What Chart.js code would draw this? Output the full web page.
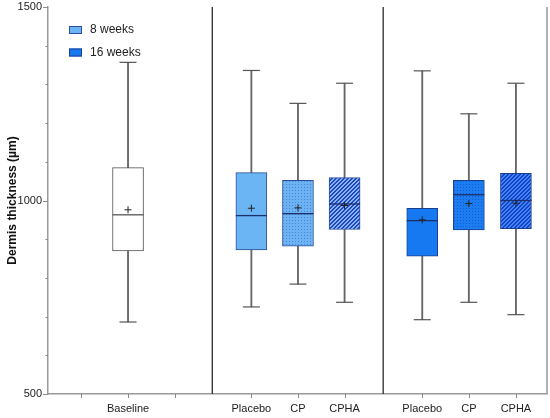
<!DOCTYPE html>
<html lang="en">
<head>
<meta charset="UTF-8">
<title>Dermis thickness</title>
<script src="https://cdn.jsdelivr.net/npm/chart.js"></script>
<style>
  html, body { margin: 0; padding: 0; background: #fff; }
  #wrap { width: 550px; height: 418px; }
</style>
</head>
<body>
<div id="wrap"><canvas id="myChart" width="550" height="418"></canvas></div>
<script>
// data (µm)
const categories = ['Baseline', 'Placebo', 'CP', 'CPHA', 'Placebo', 'CP', 'CPHA'];
const series     = ['Baseline', '8 weeks', '8 weeks', '8 weeks', '16 weeks', '16 weeks', '16 weeks'];
const whiskerMin = [686, 725, 784, 737, 692, 737, 705];
const q1         = [870, 872, 882, 925, 856, 924, 927];
const median     = [963, 961, 966, 991, 948, 1015, 1000];
const q3         = [1085, 1072, 1052, 1059, 980, 1052, 1070];
const whiskerMax = [1357, 1336, 1251, 1303, 1335, 1224, 1303];
const mean       = [976, 980, 981, 987, 950, 992, 993];
const yTicks     = [500, 1000, 1500];

// layout only: where each box sits on the x axis, group dividers
const slotX = [1.7, 4.32, 5.31, 6.3, 7.95, 8.94, 9.94];
const extraTicks = [0.7, 2.7];
const dividers = [3.49, 7.12];

const ctx = document.getElementById('myChart').getContext('2d');

// fill patterns
function f_tile(w, h, paint){
    var c = document.createElement('canvas');
    c.width = w; c.height = h;
    var g = c.getContext('2d');
    for (var y = 0; y < h; y++) {
        for (var x = 0; x < w; x++) {
            g.fillStyle = paint(x, y);
            g.fillRect(x, y, 1, 1);
        }
    }
    return ctx.createPattern(c, 'repeat');
}
function f_dots(base, dot){
    return f_tile(3, 3, (x, y) => (x === 1 && y === 1) ? dot : base);
}
function f_hatch(dark, light){
    return f_tile(4, 4, (x, y) => ((x + y) % 4 === 0 || (x + y) % 4 === 3) ? light : dark);
}

const fills = {
    'Baseline': ['#ffffff'],
    '8 weeks':  ['#6bb5f5', f_dots('#6db2f3', '#3f86d8'), f_hatch('#2446c4', '#86b6f0')],
    '16 weeks': ['#1779f2', f_dots('#1c7cf0', '#0b5cd0'), f_hatch('#1741cc', '#3f86ee')]
};
const borders = { 'Baseline': '#555555', '8 weeks': '#2a4f99', '16 weeks': '#1a3f90' };

// one floating-bar dataset per series for the boxes
function f_boxSet(name){
    var pts = [];
    series.forEach((s, i) => { if (s === name) pts.push({ x: slotX[i], y: [q1[i], q3[i]] }); });
    return {
        type: 'bar',
        label: name,
        data: pts,
        backgroundColor: fills[name],
        borderColor: borders[name],
        borderWidth: 1,
        borderSkipped: false,
        barThickness: 31,
        order: 2
    };
}

const medianColors = series.map(s => s === 'Baseline' ? '#555555' : '#1d2f6b');

const myChart = new Chart(ctx, {
    type: 'bar',
    data: {
        datasets: [
            {   // mean "+"
                type: 'scatter',
                label: 'mean',
                data: mean.map((v, i) => ({ x: slotX[i], y: v })),
                pointStyle: 'cross',
                pointRadius: 3.5,
                borderColor: '#222222',
                borderWidth: 1,
                order: 0
            },
            {   // median line
                type: 'scatter',
                label: 'median',
                data: median.map((v, i) => ({ x: slotX[i], y: v })),
                pointStyle: 'line',
                pointRadius: 15.5,
                borderColor: medianColors,
                borderWidth: 1.3,
                order: 1
            },
            f_boxSet('Baseline'),
            f_boxSet('8 weeks'),
            f_boxSet('16 weeks'),
            {   // whisker caps
                type: 'scatter',
                label: 'caps',
                data: whiskerMin.map((v, i) => ({ x: slotX[i], y: v }))
                        .concat(whiskerMax.map((v, i) => ({ x: slotX[i], y: v }))),
                pointStyle: 'line',
                pointRadius: 8.5,
                borderColor: '#555555',
                borderWidth: 1.2,
                order: 3
            },
            {   // whisker stems
                type: 'bar',
                label: 'whiskers',
                data: whiskerMin.map((v, i) => ({ x: slotX[i], y: [v, whiskerMax[i]] })),
                backgroundColor: '#666666',
                borderWidth: 0,
                barThickness: 1.2,
                order: 4
            }
        ]
    },
    options: {
        responsive: false,
        animation: false,
        events: [],
        layout: { autoPadding: false, padding: { top: 7, right: 3, left: 0, bottom: 0 } },
        datasets: { bar: { grouped: false } },
        plugins: { legend: { display: false }, tooltip: { enabled: false } },
        scales: {
            x: {
                type: 'linear',
                min: 0,
                max: 10.6,
                offset: false,
                afterBuildTicks: (scale) => {
                    scale.ticks = extraTicks.concat(slotX).sort((a, b) => a - b).map(v => ({ value: v }));
                },
                afterFit: (scale) => {
                    scale.height = 24;
                    scale.paddingLeft = 0;
                    scale.paddingRight = 0;
                },
                grid: { display: true, drawOnChartArea: false, drawTicks: false },
                border: { display: true, color: '#9a9a9a', width: 1.5 },
                ticks: {
                    autoSkip: false,
                    maxRotation: 0,
                    padding: 8,
                    color: '#222222',
                    font: { family: 'Liberation Sans, Arial, sans-serif', size: 11 },
                    callback: (v) => {
                        var i = slotX.indexOf(v);
                        return i < 0 ? '' : categories[i];
                    }
                }
            },
            y: {
                min: 500,
                max: 1500,
                afterFit: (scale) => {
                    scale.width = 48;
                    scale.paddingTop = 0;
                    scale.paddingBottom = 0;
                },
                grid: { display: true, drawOnChartArea: false, drawTicks: false },
                border: { display: true, color: '#9a9a9a', width: 1.5 },
                ticks: {
                    stepSize: 100,
                    padding: 6,
                    color: '#222222',
                    font: { family: 'Liberation Sans, Arial, sans-serif', size: 11 },
                    callback: (v) => yTicks.indexOf(v) >= 0 ? String(v) : ''
                },
                title: {
                    display: true,
                    text: 'Dermis thickness (µm)',
                    color: '#111111',
                    font: { family: 'Liberation Sans, Arial, sans-serif', size: 12, weight: 'bold' },
                    padding: { top: 5, bottom: 0 }
                }
            }
        }
    },
    plugins: [{
        id: 'extras',
        afterDraw(chart) {
            var c = chart.ctx, a = chart.chartArea;
            var xs = chart.scales.x, ys = chart.scales.y;
            c.save();
            // y tick marks: long at labelled values, short otherwise
            c.strokeStyle = '#8a8a8a';
            c.lineWidth = 1;
            ys.ticks.forEach(t => {
                var py = Math.round(ys.getPixelForValue(t.value)) + 0.5;
                var len = yTicks.indexOf(t.value) >= 0 ? 5 : 2.5;
                c.beginPath(); c.moveTo(a.left - len, py); c.lineTo(a.left, py); c.stroke();
            });
            // x tick marks
            xs.ticks.forEach(t => {
                var px = Math.round(xs.getPixelForValue(t.value)) + 0.5;
                c.beginPath(); c.moveTo(px, a.bottom); c.lineTo(px, a.bottom + 4); c.stroke();
            });
            // right frame
            c.strokeStyle = '#9a9a9a';
            c.lineWidth = 1.5;
            c.beginPath(); c.moveTo(a.right, a.top); c.lineTo(a.right, a.bottom); c.stroke();
            // group dividers
            c.strokeStyle = '#2a2a2a';
            c.lineWidth = 1.3;
            dividers.forEach(d => {
                var px = xs.getPixelForValue(d);
                c.beginPath(); c.moveTo(px, a.top); c.lineTo(px, a.bottom); c.stroke();
            });
            // legend (8 weeks / 16 weeks)
            var items = chart.data.datasets.filter(ds => ds.label === '8 weeks' || ds.label === '16 weeks');
            c.font = '12px "Liberation Sans", Arial, sans-serif';
            c.textBaseline = 'middle';
            items.forEach((ds, k) => {
                var bx = a.left + 21, by = a.top + 19 + k * 22.5;
                c.fillStyle = ds.backgroundColor[0];
                c.fillRect(bx, by, 13, 8);
                c.strokeStyle = ds.borderColor;
                c.lineWidth = 1;
                c.strokeRect(bx + 0.5, by + 0.5, 12, 7);
                c.fillStyle = '#222222';
                c.fillText(ds.label, bx + 21, by + 4);
            });
            c.restore();
        }
    }]
});
</script>
</body>
</html>
